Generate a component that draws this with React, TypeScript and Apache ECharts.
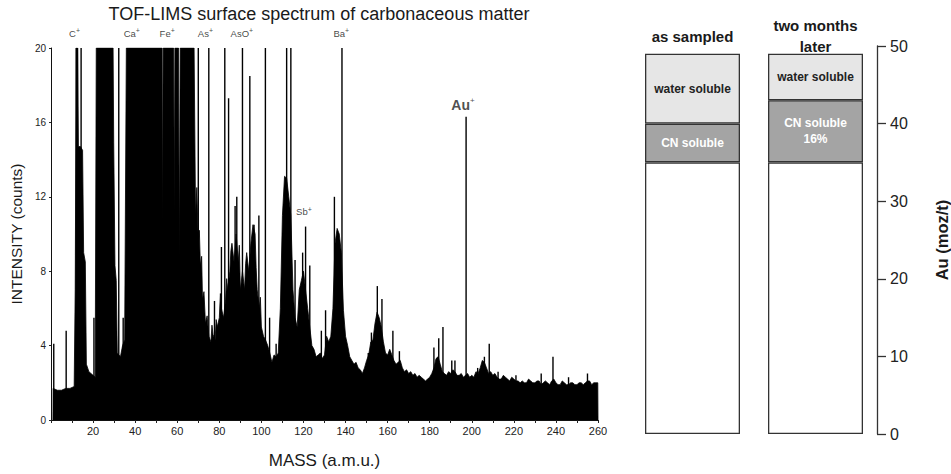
import React, { useEffect, useRef } from "react";
import * as echarts from "echarts";

// ---------- Left: TOF-LIMS spectrum ----------
const massTicks = [0, 20, 40, 60, 80, 100, 120, 140, 160, 180, 200, 220, 240, 260];
const intensityTicks = [0, 4, 8, 12, 16, 20];

// continuum / broad envelope [mass, counts] (clipped at 20)
const envelope: [number, number][] = [
  [0.9, 0], [1, 1.7], [3, 1.6], [5, 1.6], [7, 1.7], [9, 1.7], [11, 1.8], [11.5, 7],
  [12, 20], [12.6, 20], [13, 14.7], [14, 14.7], [15, 14.5], [15.5, 9], [16.3, 8.5], [16.8, 3],
  [18, 2.6], [19, 2.5], [20, 2.4], [21, 2.3], [21.5, 20], [29.5, 20], [29.8, 14.9], [30.4, 8.3],
  [31, 7.5], [31.5, 3.6], [33, 3.4], [34, 4], [35, 4.3], [35.8, 20], [52.8, 20], [53, 10.2],
  [53.3, 20], [58.3, 20], [58.6, 11.2], [58.9, 20], [60.6, 20], [61, 8.7], [61.4, 20], [68, 20],
  [68.7, 11], [69.3, 12.5], [70, 9.5], [70.5, 10.2], [71, 8.3], [71.6, 8.8], [72, 6.5], [72.7, 6.9],
  [73.4, 5.2], [74.2, 5.6], [75, 4.5], [76, 4.2], [76.5, 5.1], [77, 4.6], [78, 4.3], [78.5, 5.4],
  [79, 5.0], [80, 5.5], [80.5, 6.8], [81, 6], [82, 5.5], [83, 6.5], [83.5, 7.6], [84, 7], [85, 8],
  [85.5, 9.1], [86, 9.5], [87, 8.5], [88, 10], [89, 8.5], [89.5, 9.4], [90, 7], [91, 8], [92, 7],
  [92.5, 8.4], [93, 9], [94, 8], [95, 9.5], [96, 10.5], [97, 10], [97.5, 8.2], [98, 7], [99, 6],
  [99.5, 6.6], [100, 5], [101, 4.5], [102, 4.3], [103, 4], [104, 3.6], [105, 3.1], [106, 3.5],
  [107, 3.4], [108, 3.6], [109, 6], [110, 11], [111, 13.1], [112, 13], [113, 12], [114, 11],
  [115, 7], [116, 5.5], [117, 5], [118, 7], [119, 7.5], [120, 8], [121, 7], [122, 6], [123, 5],
  [124, 4], [125, 3.8], [126, 3.4], [127, 3.5], [128, 3.6], [129, 3.3], [130, 3.5], [131, 4.5],
  [132, 4.2], [133, 4.5], [134, 6], [135, 9.5], [136, 10.3], [137, 10], [138, 9], [139, 5.9],
  [140, 4.5], [141, 4], [142, 3.4], [143, 3.2], [144, 3], [145, 3.1], [146, 2.8], [147, 2.7],
  [148, 2.5], [149, 2.8], [150, 3.2], [151, 3.5], [152, 4.2], [153, 4.3], [154, 5.2], [155, 5.8],
  [156, 5.5], [157, 5.0], [158, 4.2], [159, 3.6], [160, 3.5], [161, 3.8], [162, 3.5], [163, 3.2],
  [164, 3.0], [165, 3.1], [166, 3.2], [167, 2.8], [168, 2.6], [169, 2.7], [170, 2.5], [171, 2.6],
  [172, 2.4], [173, 2.5], [174, 2.3], [175, 2.4], [176, 2.3], [177, 2.2], [178, 2.1], [179, 2.2],
  [180, 2.3], [181, 2.5], [182, 2.8], [183, 3.3], [184, 3.4], [185, 3.0], [186, 2.6], [187, 2.5],
  [188, 2.4], [189, 2.6], [190, 2.5], [191, 2.7], [192, 2.6], [193, 2.4], [194, 2.4], [195, 2.5],
  [196, 2.3], [198, 2.5], [199, 2.3], [200, 2.4], [201, 2.3], [202, 2.6], [203, 2.5], [204, 2.8],
  [205, 3.2], [206, 3.1], [207, 2.8], [208, 2.5], [209, 2.6], [210, 2.4], [211, 2.5], [212, 2.3],
  [213, 2.2], [214, 2.2], [215, 2.4], [216, 2.3], [217, 2.2], [218, 2.1], [219, 2.3], [220, 2.2],
  [221, 2.1], [222, 2.1], [223, 2.0], [224, 2.1], [225, 2.0], [226, 2.0], [227, 2.2], [228, 2.1],
  [229, 2.0], [230, 2.0], [231, 2.1], [232, 2.1], [233, 1.9], [234, 2.0], [235, 2.1], [236, 2.0],
  [237, 1.9], [238, 2.1], [239, 2.2], [240, 2.0], [241, 1.9], [242, 1.9], [243, 2.1], [244, 2.0],
  [245, 1.9], [246, 1.9], [247, 2.0], [248, 2.0], [249, 1.9], [250, 1.9], [251, 2.0], [252, 2.0],
  [253, 1.9], [254, 2.0], [255, 2.1], [256, 2.1], [257, 1.9], [258, 2.0], [259, 2.0], [259.9, 2.0],
  [260, 0],
];

// narrow peaks [mass, counts] (20 = off scale)
const peaks: [number, number][] = [
  [1.3, 4.1], [7.2, 4.8], [12, 20], [12.6, 20], [14.3, 20], [20.4, 5.5], [32.2, 20], [34.3, 5.5],
  [70, 20], [75, 20], [77.7, 6.4], [81, 9.3], [82.6, 20], [84.4, 17.3], [87.5, 11.5], [88.3, 12],
  [91, 20], [94.5, 18.5], [96.5, 10.5], [98.8, 11], [101.9, 20], [103.9, 5.5], [107, 4.1],
  [112, 20], [114, 20], [116, 8.6], [119.6, 9], [121, 10.4], [123, 8.3], [128.5, 4.8],
  [130.5, 5.9], [134.7, 12], [138.3, 20], [150.8, 3.6], [152.3, 4.7], [155.1, 7.2], [157.3, 6.5],
  [162.5, 4.8], [165.6, 3.7], [182, 3.9], [184.3, 4.4], [186.3, 5.0], [190.5, 3.2], [192, 3.2],
  [197.3, 16.3], [202.8, 2.8], [206, 3.4], [208.3, 4.1], [212.5, 2.6], [221, 2.4], [233, 2.5],
  [238.6, 3.4], [246, 2.3], [255, 2.5],
];

// peak labels: [mass, counts anchor, element]
const peakLabels: [number, number, string][] = [
  [11.2, 20, "C"], [38.4, 20, "Ca"], [55.2, 20, "Fe"], [73.4, 20, "As"], [90.7, 20, "AsO"],
  [138, 20, "Ba"], [120.2, 10.4, "Sb"],
];
const goldLabel: [number, number, string] = [195.8, 16.3, "Au"];

// ---------- Right: Au (moz/t) bars ----------
const stages = ["as sampled", "two months\nlater"];
const baseAu = [35, 35];
const cnSoluble = [5, 8];
const waterSoluble = [9, 6];
const cnText = ["CN soluble", "CN soluble\n16%"];
const waterText = ["water soluble", "water soluble"];
const auTicks = [0, 10, 20, 30, 40, 50];

const FONT = "'Liberation Sans', Arial, Helvetica, sans-serif";

const noBorder = { textBorderWidth: 0, textBorderColor: "transparent", textShadowBlur: 0 };

export default function App() {
  const ref = useRef<HTMLDivElement>(null);
  useEffect(() => {
    if (!ref.current) return;
    const chart = echarts.init(ref.current, null, { renderer: "svg" });
    const option: any = {
      animation: false,
      backgroundColor: "#ffffff",
      textStyle: { fontFamily: FONT },
      graphic: [
        {
          type: "text",
          x: 319,
          y: 14,
          style: {
            text: "TOF-LIMS surface spectrum of carbonaceous matter",
            fontSize: 18,
            fontFamily: FONT,
            fill: "#1a1a1a",
            textAlign: "center",
            textVerticalAlign: "middle",
          },
        },
      ],
      grid: [
        { left: 42, top: 48, width: 556, height: 385 },
        { left: 631, top: 46, width: 246, height: 388 },
      ],
      xAxis: [
        {
          gridIndex: 0,
          type: "value",
          min: massTicks[0],
          max: massTicks[massTicks.length - 1],
          interval: 20,
          name: "MASS (a.m.u.)",
          nameLocation: "middle",
          nameGap: 32,
          nameTextStyle: { fontSize: 17, color: "#1a1a1a", fontFamily: FONT },
          axisLine: { show: true, lineStyle: { color: "#111", width: 1 } },
          axisTick: { show: true, length: 3, lineStyle: { color: "#222" } },
          minorTick: { show: true, splitNumber: 2, length: 3, lineStyle: { color: "#222" } },
          splitLine: { show: false },
          axisLabel: {
            fontSize: 11,
            color: "#222",
            margin: 5,
            fontFamily: FONT,
            formatter: (v: number) => (v === 0 ? "" : String(v)),
          },
        },
        {
          gridIndex: 1,
          type: "category",
          position: "top",
          data: stages,
          axisLine: { show: false },
          axisTick: { show: false },
          axisLabel: {
            fontSize: 15,
            fontWeight: "bold",
            color: "#1a1a1a",
            lineHeight: 21,
            margin: 10,
            verticalAlign: "middle",
            fontFamily: "Arial, 'Liberation Sans', Helvetica, sans-serif",
          },
        },
      ],
      yAxis: [
        {
          gridIndex: 0,
          type: "value",
          min: intensityTicks[0],
          max: intensityTicks[intensityTicks.length - 1],
          interval: 4,
          name: "INTENSITY (counts)",
          nameLocation: "middle",
          nameGap: 27,
          nameTextStyle: { fontSize: 15.5, color: "#1a1a1a", fontFamily: FONT },
          axisLine: { show: true, lineStyle: { color: "#111", width: 1 } },
          axisTick: { show: true, length: 2, lineStyle: { color: "#222" } },
          splitLine: { show: false },
          axisLabel: { fontSize: 10, color: "#222", margin: 5, fontFamily: FONT },
        },
        {
          gridIndex: 1,
          type: "value",
          position: "right",
          min: auTicks[0],
          max: auTicks[auTicks.length - 1],
          interval: 10,
          name: "Au (moz/t)",
          nameLocation: "middle",
          nameRotate: 90,
          nameGap: 56,
          nameTextStyle: { fontSize: 16.5, fontWeight: "bold", color: "#1a1a1a" },
          axisLine: { show: true, lineStyle: { color: "#333", width: 1.3 } },
          axisTick: { show: true, inside: false, length: 9, lineStyle: { color: "#333", width: 1.3 } },
          splitLine: { show: false },
          axisLabel: { fontSize: 16, color: "#222", margin: 13 },
        },
      ],
      series: [
        {
          type: "line",
          xAxisIndex: 0,
          yAxisIndex: 0,
          data: envelope,
          symbol: "none",
          smooth: false,
          lineStyle: { color: "#000", width: 0.8 },
          areaStyle: { color: "#000", opacity: 1 },
          clip: true,
          z: 2,
        },
        {
          type: "bar",
          xAxisIndex: 0,
          yAxisIndex: 0,
          data: peaks,
          barWidth: 1.4,
          itemStyle: { color: "#000" },
          z: 3,
        },
        {
          type: "scatter",
          xAxisIndex: 0,
          yAxisIndex: 0,
          symbolSize: 0,
          clip: false,
          itemStyle: { color: "#111" },
          data: peakLabels.map((p) => ({ value: [p[0], p[1]], name: p[2] })),
          label: {
            show: true,
            position: "top",
            distance: 9,
            color: "#111",
            ...noBorder,
            formatter: (p: any) => `{b|${p.name}}{s|+}`,
            rich: {
              b: { fontSize: 9.5, color: "#111", fontFamily: FONT, lineHeight: 12, ...noBorder },
              s: { fontSize: 7, color: "#111", fontFamily: FONT, lineHeight: 12, verticalAlign: "top", ...noBorder },
            },
          },
          z: 5,
        },
        {
          type: "scatter",
          xAxisIndex: 0,
          yAxisIndex: 0,
          symbolSize: 0,
          clip: false,
          itemStyle: { color: "#222" },
          data: [{ value: [goldLabel[0], goldLabel[1]], name: goldLabel[2] }],
          label: {
            show: true,
            position: "top",
            distance: 4,
            color: "#222",
            ...noBorder,
            formatter: (p: any) => `{b|${p.name}}{s|+}`,
            rich: {
              b: { fontSize: 14, fontWeight: "bold", color: "#222", fontFamily: FONT, lineHeight: 16, ...noBorder },
              s: { fontSize: 8, color: "#222", fontFamily: FONT, lineHeight: 16, verticalAlign: "top", ...noBorder },
            },
          },
          z: 5,
        },
        {
          type: "bar",
          name: "base",
          xAxisIndex: 1,
          yAxisIndex: 1,
          stack: "au",
          barWidth: 95,
          data: baseAu,
          itemStyle: { color: "#ffffff", borderColor: "#333", borderWidth: 1.3 },
        },
        {
          type: "bar",
          name: "CN soluble",
          xAxisIndex: 1,
          yAxisIndex: 1,
          stack: "au",
          barWidth: 95,
          data: cnSoluble.map((v, i) => ({ value: v, label: { formatter: cnText[i] } })),
          itemStyle: { color: "#a4a4a4", borderColor: "#333", borderWidth: 1.3 },
          label: {
            show: true,
            position: "inside",
            color: "#ffffff",
            fontWeight: "bold",
            fontSize: 12,
            lineHeight: 16,
            ...noBorder,
            fontFamily: "Arial, 'Liberation Sans', sans-serif",
          },
        },
        {
          type: "bar",
          name: "water soluble",
          xAxisIndex: 1,
          yAxisIndex: 1,
          stack: "au",
          barWidth: 95,
          data: waterSoluble.map((v, i) => ({ value: v, label: { formatter: waterText[i] } })),
          itemStyle: { color: "#e6e6e6", borderColor: "#333", borderWidth: 1.3 },
          label: {
            show: true,
            position: "inside",
            color: "#222",
            fontWeight: "bold",
            fontSize: 12,
            ...noBorder,
            fontFamily: "Arial, 'Liberation Sans', sans-serif",
          },
        },
      ],
    };
    chart.setOption(option);
    return () => chart.dispose();
  }, []);
  return (
    <div
      ref={ref}
      style={{ position: "fixed", left: 0, top: 0, width: 951, height: 474, background: "#fff" }}
    />
  );
}
